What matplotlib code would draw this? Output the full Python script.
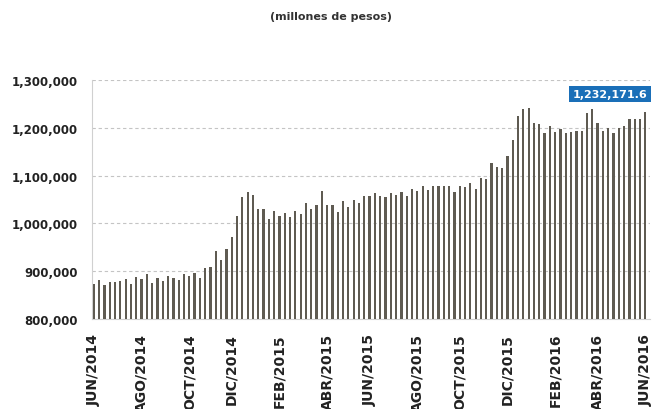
import matplotlib
matplotlib.use("Agg")
import matplotlib.pyplot as plt
import numpy as np

values = [
    872300, 881250, 870200, 877700, 877700, 880500, 883300, 872900, 888900, 884000,
    893750, 875000, 886100, 878500, 891000, 886000, 881250, 893750, 891000, 896500,
    885400, 907600, 909700, 942400, 923600, 945800, 971500, 1014600, 1054800, 1065300,
    1060400, 1030600, 1030600, 1009000, 1025000, 1014600, 1022200, 1013900, 1025000, 1020100,
    1041700, 1030600, 1038200, 1068750, 1038900, 1038900, 1022900, 1046500, 1033300, 1049300,
    1041700, 1056900, 1056900, 1064600, 1056900, 1054200, 1063200, 1060400, 1065300, 1056900,
    1072900, 1068000, 1079200, 1070800, 1078500, 1078500, 1078500, 1078500, 1065300, 1078500,
    1075700, 1084000, 1072900, 1095100, 1093750, 1127100, 1118750, 1116000, 1140300, 1175000,
    1223600, 1239600, 1241700, 1209700, 1207600, 1188900, 1202700, 1191000, 1197200, 1188900,
    1191700, 1193750, 1193750, 1230600, 1238900, 1210400, 1193750, 1198600, 1188900, 1198600,
    1202700, 1218100, 1218100, 1218100, 1232171.6,
]
tick_labels = ["JUN/2014", "AGO/2014", "OCT/2014", "DIC/2014", "FEB/2015", "ABR/2015",
               "JUN/2015", "AGO/2015", "OCT/2015", "DIC/2015", "FEB/2016", "ABR/2016",
               "JUN/2016"]
tick_idx = [0, 9, 18, 26, 35, 44, 52, 61, 69, 78, 87, 95, 104]
yticks = [800000, 900000, 1000000, 1100000, 1200000, 1300000]
title = "(millones de pesos)"
last_label = "1,232,171.6"

fig = plt.figure(figsize=(6.56, 4.10), dpi=100)
ax = fig.add_axes([0.140, 0.2195, 0.851, 0.583])

x = np.arange(len(values))
ax.bar(x, values, width=0.42, color="#5f5b52", zorder=3)

ax.set_ylim(800000, 1300000)
ax.set_xlim(-0.38, 104.9)
ax.set_yticks(yticks)
ax.set_yticklabels([f"{v:,}" for v in yticks], fontsize=8.5, fontweight="bold", color="#222222")
ax.yaxis.grid(True, color="#c4c4c4", linestyle=(0, (3, 2.5)), linewidth=0.8, zorder=0)

ax.set_xticks(tick_idx)
ax.set_xticklabels(tick_labels, rotation=90, fontsize=10, fontweight="bold",
                   color="#222222", va="top", ha="center")
ax.tick_params(axis="x", length=0, pad=10)
ax.tick_params(axis="y", length=0, pad=10)

for s in ["top", "right"]:
    ax.spines[s].set_visible(False)
for s in ["left", "bottom"]:
    ax.spines[s].set_color("#d0d0d0")
    ax.spines[s].set_linewidth(0.8)

ax.text(104.4, 1270500, last_label, ha="right", va="center", fontsize=8,
        fontweight="bold", color="white", zorder=5,
        bbox=dict(boxstyle="square,pad=0.3", facecolor="#1a6fb8", edgecolor="none"))

fig.text(0.505, 0.958, title, ha="center", va="center", fontsize=8,
         fontweight="bold", color="#333333")

fig.savefig("out.png", dpi=100)
